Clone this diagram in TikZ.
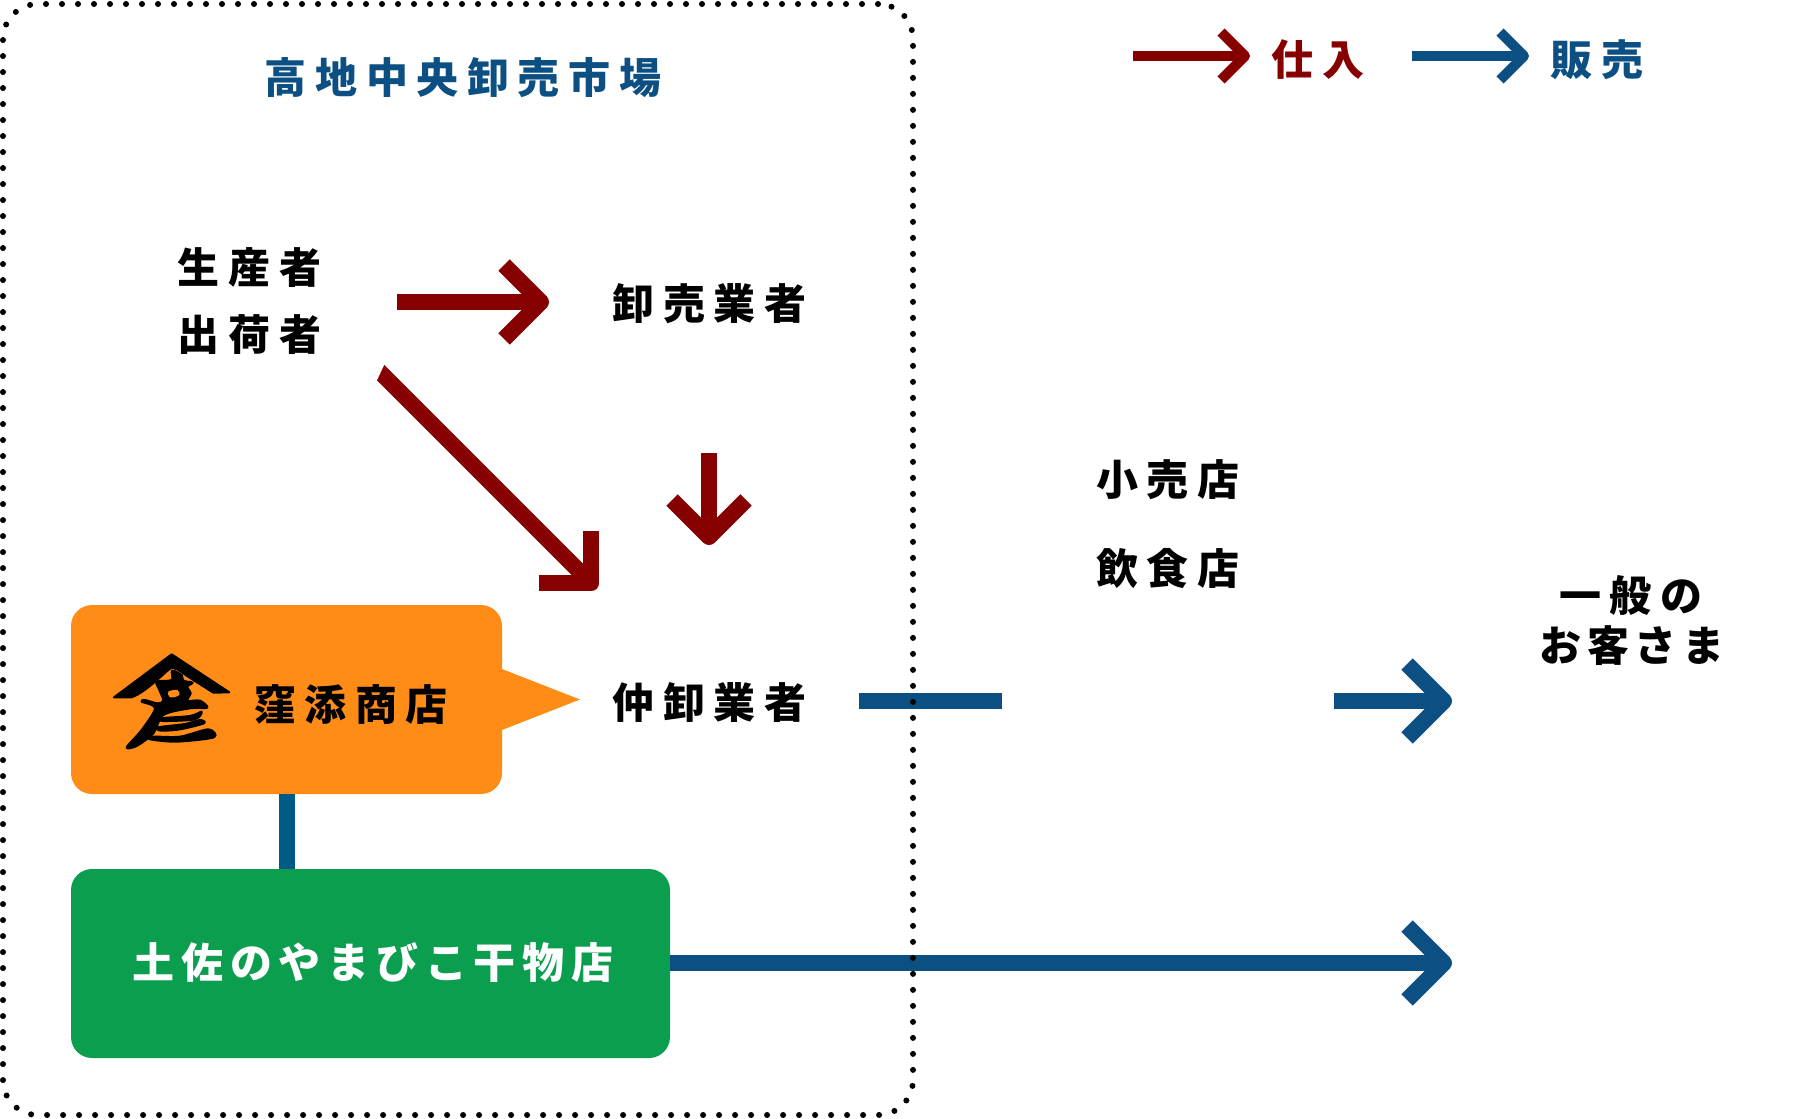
\documentclass[tikz,border=0pt]{standalone}
\usepackage{fontspec}
\usetikzlibrary{arrows.meta}
\newfontfamily\jpfont[LetterSpace=20.5]{Noto Sans CJK JP}
\newfontfamily\jptight[LetterSpace=16]{Noto Sans CJK JP}
\newfontfamily\jpkana[LetterSpace=14]{Noto Sans CJK JP}
\definecolor{buyred}{HTML}{870000}
\definecolor{sellblue}{HTML}{0C5083}
\definecolor{linkblue}{HTML}{005B87}
\definecolor{kuboorange}{HTML}{FF8C17}
\definecolor{hikogreen}{HTML}{0C9E4F}
\tikzset{
	lbl/.style={inner sep=0pt,outer sep=0pt,text height=35pt,text depth=3pt,font=\jpfont\bfseries\fontsize{42}{50}\selectfont},
	shopbox/.style={inner sep=0pt,outer sep=0pt,rounded corners=21pt},
	buyarrow/.style={draw=buyred,line width=16pt,-{Straight Barb[length=37pt,width=74pt,line width=16pt,line join=round]}},
	sellarrow/.style={draw=sellblue,line width=16pt,-{Straight Barb[length=37pt,width=74pt,line width=16pt,line join=round]}},
	keybuy/.style={draw=buyred,line width=10pt,-{Straight Barb[length=24pt,width=48pt,line width=10pt,line join=round]}},
	keysell/.style={draw=sellblue,line width=10pt,-{Straight Barb[length=24pt,width=48pt,line width=10pt,line join=round]}},
	dotbox/.style={inner sep=0pt,draw=black,line width=6pt,line cap=round,dash pattern=on 0pt off 16pt,rounded corners=35pt},
}
\begin{document}
\begin{tikzpicture}[x=1pt,y=-1pt]
	\useasboundingbox (0,0) rectangle (1797,1119);
	% shops
	\node[shopbox,fill=kuboorange,minimum width=431pt,minimum height=189pt] (kubo) at (286.5,699.5) {};
	\node[shopbox,fill=hikogreen,minimum width=599pt,minimum height=189pt] (yamahiko) at (370.5,963.5) {};
	\coordinate (kubotip) at (580,699.5);
	\fill[kuboorange] (kubo.east |- 0,669) -- (kubotip) -- (kubo.east |- 0,730) -- cycle;
	% labels
	\node[lbl,text=sellblue] (market) at (463,77) {高地中央卸売市場};
	\node[lbl] (seisan) at (249.5,267) {生産者};
	\node[lbl] (shukka) at (249.5,334) {出荷者};
	\node[lbl] (oroshi) at (709.5,303.5) {卸売業者};
	\node[lbl] (naka) at (709.5,702.5) {仲卸業者};
	\node[lbl] (kouri) at (1168,479) {小売店};
	\node[lbl] (inshoku) at (1168,568) {飲食店};
	\node[lbl] (ippan) at (1631,595) {一般の};
	\node[lbl,font=\jpkana\bfseries\fontsize{42}{50}\selectfont] (okyaku) at (1632,645) {お客さま};
	\node[lbl] (kubotxt) at (351,704) {窪添商店};
	\node[lbl,text=white,font=\jptight\bfseries\fontsize{42}{50}\selectfont] (yamatxt) at (373,962.5) {土佐のやまびこ干物店};
	\node[lbl,text=buyred] (keyshiire) at (1318,59) {仕入};
	\node[lbl,text=sellblue] (keyhanbai) at (1597,59) {販売};
	% logo
	\begin{scope}[shift={(100,640)},x=0.3333pt,y=-0.3333pt,line width=2pt,line join=round]
		\filldraw[black] (215,43) -- (388,157) -- (340,158) -- (258,106) .. controls (240,92) and (225,82) .. (213,84) .. controls (190,100) and (140,155) .. (95,172) -- (42,172) -- cycle;
		\filldraw[black] plot[smooth cycle,tension=0.5] coordinates {(216,92) (245,105) (250,122) (278,128) (262,140) (272,160) (262,182) (300,182) (322,203) (270,205) (190,225) (160,280) (110,318) (80,322) (125,270) (165,205) (125,185) (135,180) (172,190) (190,182) (178,150) (170,125) (215,120)};
		\fill[kuboorange] plot[smooth cycle,tension=0.6] coordinates {(205,155) (232,150) (238,165) (220,172) (208,170)};
		\filldraw[black] plot[smooth cycle,tension=0.5] coordinates {(305,215) (285,238) (190,243) (180,235) (270,228)};
		\filldraw[black] plot[smooth cycle,tension=0.5] coordinates {(312,250) (240,268) (182,272) (175,262) (255,252) (300,240)};
		\filldraw[black] plot[smooth cycle,tension=0.5] coordinates {(325,268) (342,292) (230,305) (150,298) (160,290) (240,290)};
	\end{scope}
	% flows
	\coordinate (a1s) at (397,302);
	\coordinate (a1e) at (549,302);
	\draw[buyarrow] (a1s) -- (a1e);
	\coordinate (a2s) at (378.5,370.5);
	\coordinate (a2e) at (597,589);
	\draw[buyarrow] (a2s) -- (a2e);
	\fill[white] (384.2,364.8) -- (370,372) -- (370,382) -- (377,380.2) -- cycle;
	\coordinate (a3s) at (709,453);
	\coordinate (a3e) at (709,545);
	\draw[buyarrow] (a3s) -- (a3e);
	\coordinate (s1s) at (859,701);
	\coordinate (s1e) at (1002,701);
	\draw[draw=sellblue,line width=16pt] (s1s) -- (s1e);
	\coordinate (s2s) at (1334,701);
	\coordinate (s2e) at (1452,701);
	\draw[sellarrow] (s2s) -- (s2e);
	\coordinate (s3e) at (1452,963);
	\draw[sellarrow] (yamahiko.east |- s3e) -- (s3e);
	\draw[draw=linkblue,line width=16pt] (kubo.south) -- (kubo.south |- yamahiko.north);
	% key
	\coordinate (k1s) at (1133,56);
	\coordinate (k1e) at (1250,56);
	\draw[keybuy] (k1s) -- (k1e);
	\coordinate (k2s) at (1412,56);
	\coordinate (k2e) at (1529,56);
	\draw[keysell] (k2s) -- (k2e);
	% market border
	\node[dotbox,minimum width=910pt,minimum height=1111pt] (area) at (458,559.5) {};
\end{tikzpicture}
\end{document}
